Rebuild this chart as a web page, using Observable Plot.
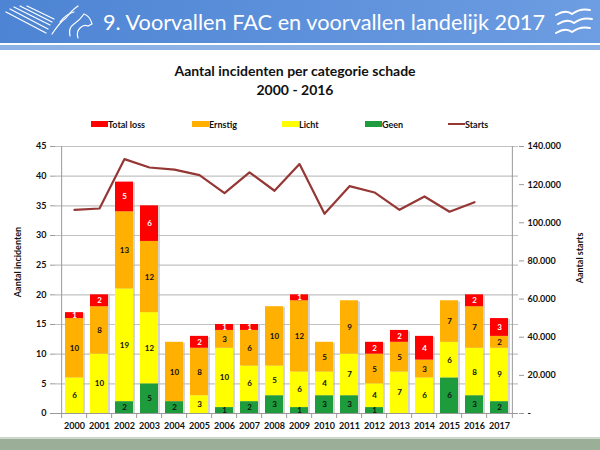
<!DOCTYPE html>
<html><head><meta charset="utf-8">
<script src="https://cdn.jsdelivr.net/npm/d3@7"></script>
<script src="https://cdn.jsdelivr.net/npm/@observablehq/plot@0.6"></script>
<style>
body{margin:0;width:600px;height:450px;position:relative;overflow:hidden;background:#fff;font-family:Lato,"Open Sans",sans-serif;}
#hdr{position:absolute;left:0;top:0;}
.title{position:absolute;left:0;width:590px;text-align:center;font-weight:bold;color:#111;}
#legend{position:absolute;top:118px;left:0;width:600px;height:14px;font-size:9px;font-weight:bold;color:#111;}
.li{position:absolute;top:0;display:flex;align-items:center;height:12px;}
.sw{width:17px;height:6px;display:inline-block;}
.ln{width:17px;height:2px;display:inline-block;background:#953735;}
#chart{position:absolute;left:0;top:130px;}
.alab{position:absolute;width:120px;height:12px;line-height:12px;text-align:center;font-size:9px;font-weight:bold;color:#111;transform:rotate(-90deg);}
#foot{position:absolute;left:0;top:437px;width:600px;height:13px;background:#9aae98;border-top:2px solid #cdd8cb;}
</style></head>
<body>
<svg id="hdr" width="600" height="52">
 <defs><linearGradient id="g" x1="0" x2="1"><stop offset="0" stop-color="#4d84d3"/><stop offset="1" stop-color="#6d9de2"/></linearGradient></defs>
 <rect width="600" height="43" fill="url(#g)"/>
 <rect y="45" width="600" height="5" fill="#8db3e6"/>
 <g stroke="#fff" stroke-width="1.2" fill="none" stroke-linecap="round">
  <path d="M6,12 L46,33"/><path d="M10,9 L48,29"/><path d="M14,7 L50,25"/><path d="M20,6 L52,22"/><path d="M27,6 L54,19"/>
  <path d="M52,34 Q60,22 66,18 Q72,10 78,6"/><path d="M60,22 Q66,14 74,12"/>
  <path d="M70,36 Q68,28 74,24 Q80,20 84,14 Q90,16 92,24 L88,26 Q84,24 80,28 Q76,32 78,38"/>
 </g>
 <text x="103" y="30" fill="#fff" font-size="22" textLength="442" lengthAdjust="spacingAndGlyphs" font-family="Lato">9. Voorvallen FAC en voorvallen landelijk 2017</text>
 <g stroke="#fff" stroke-width="2" fill="none" stroke-linecap="round">
  <path d="M556,15 Q566,9 572,14 Q580,8 590,10"/>
  <path d="M558,24 Q568,18 574,23 Q582,17 592,19"/>
  <path d="M556,33 Q566,27 572,32 Q580,26 590,28"/>
 </g>
</svg>
<div class="title" style="top:62px;font-size:14px;">Aantal incidenten per categorie schade</div>
<div class="title" style="top:81px;font-size:14px;">2000 - 2016</div>
<div id="legend">
 <div class="li" style="left:91px"><span class="sw" style="background:#ff0000"></span>Total loss</div>
 <div class="li" style="left:192px"><span class="sw" style="background:#ffb000"></span>Ernstig</div>
 <div class="li" style="left:282px"><span class="sw" style="background:#ffff00"></span>Licht</div>
 <div class="li" style="left:365px"><span class="sw" style="background:#1e9b3c"></span>Geen</div>
 <div class="li" style="left:448px"><span class="ln"></span>Starts</div>
</div>
<div id="chart"></div>
<div class="alab" style="left:-42px;top:256px;">Aantal incidenten</div>
<div class="alab" style="left:520px;top:252px;">Aantal starts</div>
<div id="foot"></div>
<script>
const years = ["2000","2001","2002","2003","2004","2005","2006","2007","2008","2009","2010","2011","2012","2013","2014","2015","2016","2017"];
const geen      = [0,0,2,5,2,0,1,2,3,1,3,3,1,0,0,6,3,2];
const licht     = [6,10,19,12,0,3,10,6,5,6,4,7,4,7,6,6,8,9];
const ernstig   = [10,8,13,12,10,8,3,6,10,12,5,9,5,5,3,7,7,2];
const totalLoss = [1,2,5,6,0,2,1,1,0,1,0,0,2,2,4,0,2,3];
const startYears = years.slice(0,17);
const starts = [106800,107500,133400,129000,127900,125000,115600,126400,116800,130800,104700,119200,115900,106800,113800,105800,110800];
const leftTicks = [0,5,10,15,20,25,30,35,40,45];
const rightTicks = [0,20000,40000,60000,80000,100000,120000,140000];

const cats = ["Geen","Licht","Ernstig","Total loss"];
const catColors = ["#1e9b3c","#ffff00","#ffb000","#ff0000"];
const series = [geen,licht,ernstig,totalLoss];
const rows = [];
years.forEach((y,i)=>series.forEach((arr,j)=>rows.push({year:y,cat:cats[j],value:arr[i]})));
const totals = years.map((y,i)=>({year:y,total:series.reduce((s,a)=>s+a[i],0)}));
const lineData = startYears.map((y,i)=>({year:y,starts:starts[i]}));

const W=600,H=305,mT=16,mB=22,mL=55,mR=82;
const step=(W-mL-mR)/years.length;
const ratio=45/140000;
const axisCol="#9a9a9a";

const chart = Plot.plot({
  width:W,height:H,marginTop:mT,marginBottom:mB,marginLeft:mL,marginRight:mR,
  x:{type:"band",domain:years,paddingInner:0.27,paddingOuter:0.135},
  y:{domain:[0,45]},
  color:{domain:cats,range:catColors},
  style:{fontFamily:"Lato, sans-serif",fontSize:"9px",fontWeight:"bold",color:"#111",background:"transparent",overflow:"visible"},
  marks:[
    Plot.ruleY(leftTicks.filter(d=>d>0),{stroke:"#c2c2c2",strokeWidth:1.2}),
    Plot.barY(totals,{x:"year",y:"total",fill:"#b8b8b8",fillOpacity:0.6,dx:2,dy:1}),
    Plot.barY(rows,Plot.stackY({x:"year",y:"value",z:"cat",fill:"cat",order:cats})),
    Plot.text(rows.filter(d=>d.value>0),Plot.stackY({x:"year",y:"value",z:"cat",order:cats,text:d=>String(d.value),fill:d=>d.cat==="Total loss"?"#fff":"#111",fontSize:8,fontWeight:"bold"})),
    Plot.line(lineData,{x:"year",y:d=>d.starts*ratio,stroke:"#953735",strokeWidth:2.2}),
    Plot.ruleY([0],{stroke:axisCol}),
    Plot.ruleX(years,{x:d=>d,y1:0,y2:-5*45/(H-mT-mB),dx:-step/2,stroke:axisCol}),
    Plot.ruleX(["2017"],{x:d=>d,y1:0,y2:-5*45/(H-mT-mB),dx:step/2,stroke:axisCol}),
    Plot.ruleX(["2000"],{x:d=>d,dx:-step/2,stroke:axisCol}),
    Plot.ruleX(["2017"],{x:d=>d,dx:step/2,stroke:axisCol}),
    Plot.axisX({tickSize:0,tickPadding:9,label:null,fontSize:9}),
    Plot.axisY({anchor:"left",ticks:leftTicks,tickSize:5,stroke:axisCol,tickFormat:d=>String(d),label:null}),
    Plot.axisY({anchor:"right",ticks:rightTicks.map(v=>v*ratio),tickSize:5,stroke:axisCol,
      tickFormat:v=>{const s=Math.round(v/ratio);return s===0?"-":d3.format(",")(s).replace(/,/g,".");},
      label:null})
  ]
});
document.getElementById("chart").appendChild(chart);
</script>
</body></html>
